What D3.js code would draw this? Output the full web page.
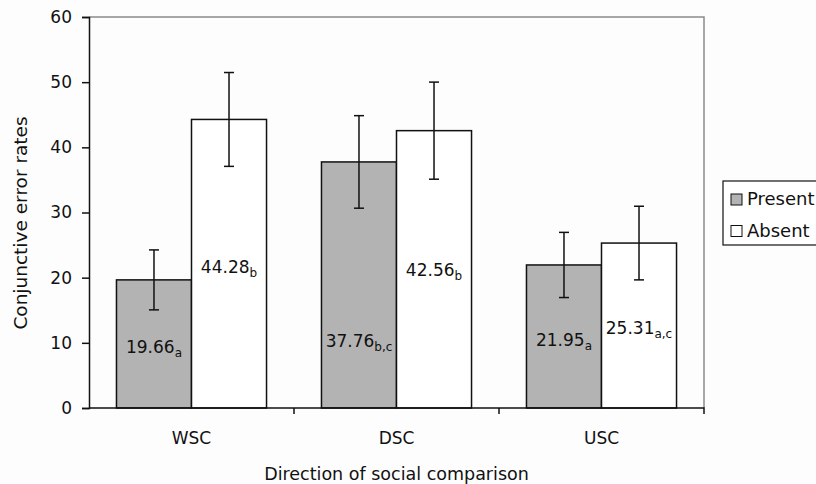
<!DOCTYPE html>
<html>
<head>
<meta charset="utf-8">
<script src="https://cdn.jsdelivr.net/npm/d3@7"></script>
<style>
  html, body { margin: 0; padding: 0; background: #fdfdfd; }
  svg { display: block; font-family: 'DejaVu Sans', sans-serif; }
</style>
</head>
<body>
<div id="chart"></div>
<script>
// chart data
const categories = ['WSC', 'DSC', 'USC'];
const series = ['Present', 'Absent'];
const presentValues = [19.66, 37.76, 21.95];
const absentValues = [44.28, 42.56, 25.31];
const presentErr = [4.6, 7.1, 5.0];
const absentErr = [7.2, 7.45, 5.65];
const presentSubs = ['a', 'b,c', 'a'];
const absentSubs = ['b', 'b', 'a,c'];
// where the value labels sit inside the bars (data units)
const presentLabelAt = [9.3, 10.2, 10.5];
const absentLabelAt = [21.6, 21.1, 12.2];
const yTicks = [0, 10, 20, 30, 40, 50, 60];

const width = 816,
  height = 484,
  margin = {left: 89, top: 17, right: 112, bottom: 76},
  fontSize = 17,
  fills = {Present: '#b3b3b3', Absent: '#ffffff'};

const rows = [];
categories.forEach((c, i) => {
  rows.push({cat: c, key: 'Present', value: presentValues[i], err: presentErr[i],
    sub: presentSubs[i], labelAt: presentLabelAt[i]});
  rows.push({cat: c, key: 'Absent', value: absentValues[i], err: absentErr[i],
    sub: absentSubs[i], labelAt: absentLabelAt[i]});
});

const svg = d3.select('#chart').append('svg')
  .attr('width', width)
  .attr('height', height);

const x0 = d3.scaleBand()
  .domain(categories)
  .range([margin.left, width - margin.right])
  .paddingInner(0.268)
  .paddingOuter(0.134);

const x1 = d3.scaleBand()
  .domain(series)
  .range([0, x0.bandwidth()]);

const y = d3.scaleLinear()
  .domain([0, 60])
  .range([height - margin.bottom, margin.top]);

// grey frame on top and right
svg.append('path')
  .attr('d', 'M' + margin.left + ',' + y(60) + 'H' + (width - margin.right) + 'V' + y(0))
  .attr('fill', 'none')
  .attr('stroke', '#8a8a8a')
  .attr('stroke-width', 1.5);

// bars
const g = svg.append('g').selectAll('g.cat')
  .data(rows)
  .enter()
  .append('g')
  .attr('transform', d => 'translate(' + x0(d.cat) + ',0)');

g.append('rect')
  .attr('x', d => x1(d.key))
  .attr('y', d => y(d.value))
  .attr('width', x1.bandwidth())
  .attr('height', d => y(0) - y(d.value))
  .attr('fill', d => fills[d.key])
  .attr('stroke', '#111')
  .attr('stroke-width', 1.5);

// error bars
const cx = d => x1(d.key) + x1.bandwidth() / 2;
g.append('line')
  .attr('x1', cx).attr('x2', cx)
  .attr('y1', d => y(d.value + d.err))
  .attr('y2', d => y(d.value - d.err))
  .attr('stroke', '#111')
  .attr('stroke-width', 1.5);
[1, -1].forEach(s => {
  g.append('line')
    .attr('x1', d => cx(d) - 5).attr('x2', d => cx(d) + 5)
    .attr('y1', d => y(d.value + s * d.err))
    .attr('y2', d => y(d.value + s * d.err))
    .attr('stroke', '#111')
    .attr('stroke-width', 1.5);
});

// value labels with subscripts
const lab = g.append('text')
  .attr('x', cx)
  .attr('y', d => y(d.labelAt))
  .attr('dy', '0.35em')
  .attr('text-anchor', 'middle')
  .attr('font-size', fontSize)
  .attr('fill', '#111');
lab.append('tspan').text(d => d.value.toFixed(2));
lab.append('tspan')
  .attr('font-size', 12)
  .attr('dy', 4)
  .text(d => d.sub);

// axes
const yAxis = svg.append('g')
  .attr('transform', 'translate(' + margin.left + ',0)')
  .call(d3.axisLeft(y).tickValues(yTicks).tickSize(7).tickPadding(10));

const xAxis = svg.append('g')
  .attr('transform', 'translate(0,' + y(0) + ')')
  .call(d3.axisBottom(x0).tickSize(0).tickPadding(24));

[yAxis, xAxis].forEach(a => {
  a.select('.domain').attr('stroke', '#111').attr('stroke-width', 1.5);
  a.selectAll('line').attr('stroke', '#111').attr('stroke-width', 1.5);
  a.selectAll('text').attr('font-size', fontSize).attr('font-family', 'DejaVu Sans').attr('fill', '#111');
});
xAxis.select('.domain').attr('d', 'M' + margin.left + ',0H' + (width - margin.right) + 'V6');

// category boundary ticks
svg.append('g').selectAll('line')
  .data(categories.slice(1))
  .enter()
  .append('line')
  .attr('x1', d => x0(d) - x0.step() * x0.paddingInner() / 2)
  .attr('x2', d => x0(d) - x0.step() * x0.paddingInner() / 2)
  .attr('y1', y(0))
  .attr('y2', y(0) + 6)
  .attr('stroke', '#111')
  .attr('stroke-width', 1.5);

// axis titles
svg.append('text')
  .attr('transform', 'translate(27,223) rotate(-90)')
  .attr('text-anchor', 'middle')
  .attr('font-size', 18.5)
  .attr('fill', '#111')
  .text('Conjunctive error rates');

svg.append('text')
  .attr('x', (margin.left + width - margin.right) / 2)
  .attr('y', 480)
  .attr('text-anchor', 'middle')
  .attr('font-size', 17.5)
  .attr('fill', '#111')
  .text('Direction of social comparison');

// legend
const legend = svg.append('g').attr('transform', 'translate(723,181)');
legend.append('rect')
  .attr('width', 100).attr('height', 64)
  .attr('fill', '#fff').attr('stroke', '#111').attr('stroke-width', 1.2);
const item = legend.selectAll('g.item')
  .data(series)
  .enter()
  .append('g')
  .attr('transform', (d, i) => 'translate(8,' + (18 + i * 31.5) + ')');
item.append('rect')
  .attr('x', 0).attr('y', -5)
  .attr('width', 11).attr('height', 11)
  .attr('fill', d => fills[d])
  .attr('stroke', '#111');
item.append('text')
  .attr('x', 16)
  .attr('dy', '0.35em')
  .attr('font-size', 18)
  .attr('fill', '#111')
  .text(d => d);
</script>
</body>
</html>
